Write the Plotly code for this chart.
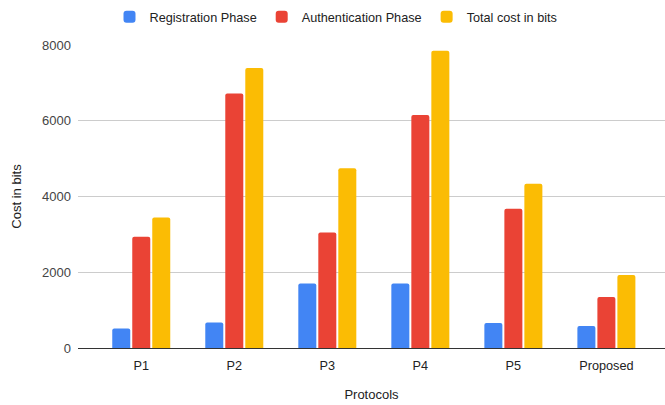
import plotly.graph_objects as go

protocols = ["P1", "P2", "P3", "P4", "P5", "Proposed"]
registration = [512, 672, 1700, 1700, 661, 581]
authentication = [2934, 6720, 3048, 6150, 3674, 1348]
total = [3446, 7392, 4748, 7850, 4335, 1929]

series = [
    ("Registration Phase", registration, "#4285F4"),
    ("Authentication Phase", authentication, "#EA4335"),
    ("Total cost in bits", total, "#FBBC04"),
]

fig = go.Figure()
for name, vals, color in series:
    fig.add_trace(go.Bar(x=protocols, y=vals, name=name, marker_color=color,
                         marker_line_width=0))

font = dict(family="Liberation Sans, Arial, sans-serif", size=12, color="#444444")

fig.update_layout(
    width=665, height=405,
    margin=dict(l=78, r=0, t=45, b=57, autoexpand=False),
    paper_bgcolor="white", plot_bgcolor="white",
    font=font,
    barmode="group", bargap=0.355, bargroupgap=0.1,
    barcornerradius=2,
    legend=dict(orientation="h", xref="paper", yref="paper",
                x=(109.5 - 78) / 587, xanchor="left", y=1 + 28 / 303.5, yanchor="middle",
                font=dict(size=12.7, color="#222222"), itemwidth=30,
                traceorder="normal"),
    xaxis=dict(range=[-0.68, 5.63], showgrid=False, showline=True, automargin=False,
               linecolor="#333333", linewidth=1, ticks="", ticklabelstandoff=6,
               tickfont=dict(size=12.7, color="#222222"),
               title=dict(text="Protocols", standoff=17,
                          font=dict(size=13, color="#222222"))),
    yaxis=dict(range=[0, 8000], tickvals=[0, 2000, 4000, 6000, 8000], automargin=False,
               showgrid=True, gridcolor="#cccccc", gridwidth=1,
               zeroline=True, zerolinecolor="#333333", zerolinewidth=1,
               ticks="", ticklabelstandoff=6,
               tickfont=dict(size=13, color="#444444"),
               title=dict(text="Cost in bits", standoff=17,
                          font=dict(size=13, color="#222222"))),
)

fig.write_html("out.html", config={"displayModeBar": False},
               post_script="document.body.style.margin='0';document.body.style.overflow='hidden';")
